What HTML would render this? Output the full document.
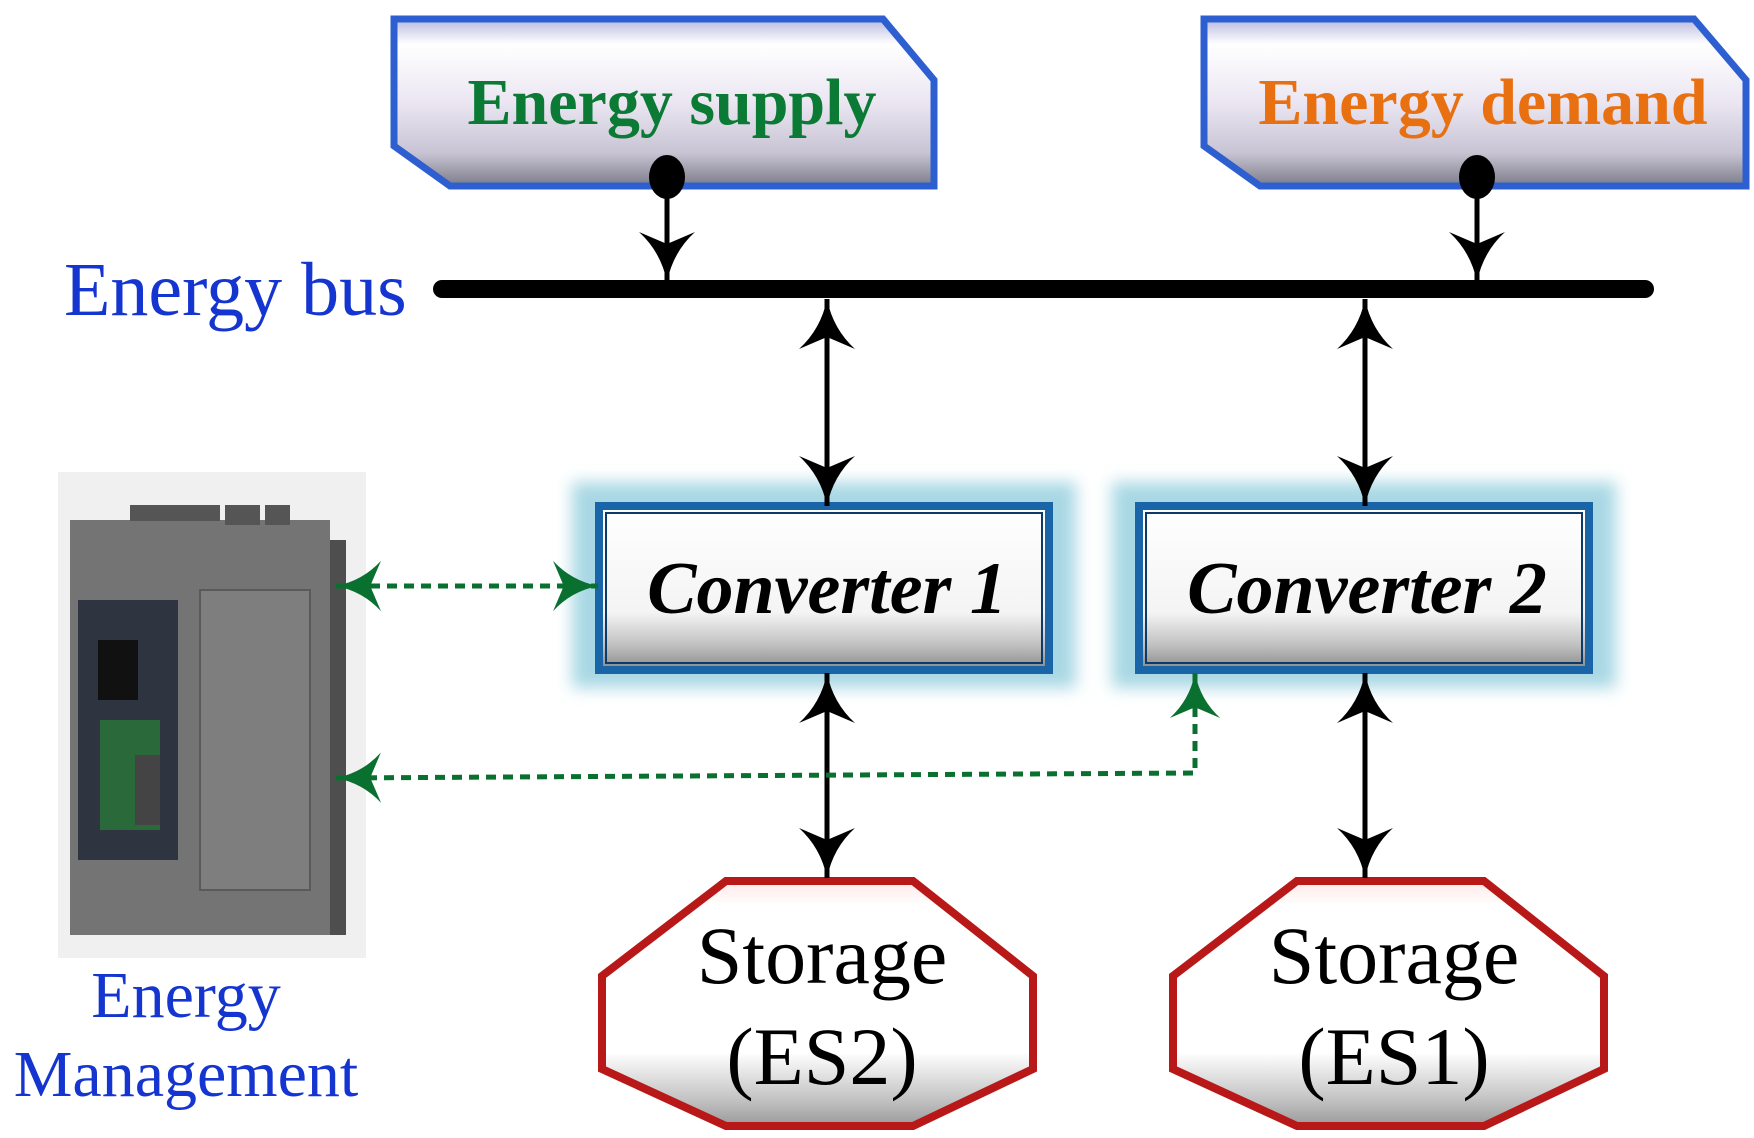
<!DOCTYPE html>
<html><head><meta charset="utf-8"><style>html,body{margin:0;padding:0;background:#fff}svg{display:block}</style></head>
<body>
<svg width="1754" height="1138" viewBox="0 0 1754 1138" xmlns="http://www.w3.org/2000/svg">
<defs>
<linearGradient id="gb" x1="0" y1="0" x2="0" y2="1">
<stop offset="0" stop-color="#b8b8e0"/><stop offset="0.15" stop-color="#ffffff"/><stop offset="0.5" stop-color="#ebe6f2"/><stop offset="0.8" stop-color="#c8c4d4"/><stop offset="1" stop-color="#7c7c88"/>
</linearGradient>
<linearGradient id="gc" x1="0" y1="0" x2="0" y2="1">
<stop offset="0" stop-color="#ffffff"/><stop offset="0.65" stop-color="#f4f4f4"/><stop offset="0.85" stop-color="#c0c0c0"/><stop offset="1" stop-color="#888"/>
</linearGradient>
<linearGradient id="gs" x1="0" y1="0" x2="0" y2="1">
<stop offset="0" stop-color="#ffe8e8"/><stop offset="0.1" stop-color="#ffffff"/><stop offset="0.7" stop-color="#ffffff"/><stop offset="0.9" stop-color="#c0c0c0"/><stop offset="1" stop-color="#999"/>
</linearGradient>
<filter id="glow" x="-20%" y="-30%" width="140%" height="160%"><feGaussianBlur stdDeviation="8"/></filter>
<marker id="ah" viewBox="0 0 50 56" refX="50" refY="28" markerWidth="50" markerHeight="56" markerUnits="userSpaceOnUse" orient="auto-start-reverse">
<path d="M0,0 Q20,22 50,28 Q20,34 0,56 L12,28 Z" fill="#000"/></marker>
<marker id="gh" viewBox="0 0 50 56" refX="50" refY="28" markerWidth="45" markerHeight="52" markerUnits="userSpaceOnUse" orient="auto-start-reverse">
<path d="M0,0 Q20,22 50,28 Q20,34 0,56 L12,28 Z" fill="#0a7030"/></marker>
</defs>

<!-- Energy supply -->
<polygon points="394,19 883,19 934,80 934,186 450,186 394,146" fill="url(#gb)" stroke="#2e5fd0" stroke-width="7"/>
<text x="672" y="124" text-anchor="middle" font-family="Liberation Serif, serif" font-weight="bold" font-size="66" fill="#0a7a35">Energy supply</text>
<!-- Energy demand -->
<polygon points="1204,19 1694,19 1746,80 1746,186 1260,186 1204,146" fill="url(#gb)" stroke="#2e5fd0" stroke-width="7"/>
<text x="1483" y="124" text-anchor="middle" font-family="Liberation Serif, serif" font-weight="bold" font-size="66" fill="#e87010">Energy demand</text>

<!-- dots & arrows down -->
<ellipse cx="667" cy="177" rx="18" ry="22" fill="#000"/>
<line x1="667" y1="177" x2="667" y2="282" stroke="#000" stroke-width="5" marker-end="url(#ah)"/>
<ellipse cx="1477" cy="177" rx="18" ry="22" fill="#000"/>
<line x1="1477" y1="177" x2="1477" y2="282" stroke="#000" stroke-width="5" marker-end="url(#ah)"/>

<!-- bus -->
<line x1="442" y1="289" x2="1645" y2="289" stroke="#000" stroke-width="18" stroke-linecap="round"/>
<text x="64" y="315" font-family="Liberation Serif, serif" font-size="76" fill="#1535d0">Energy bus</text>

<!-- converters glow -->
<rect x="572" y="482" width="504" height="206" fill="#a8d8e4" filter="url(#glow)"/>
<rect x="1112" y="482" width="504" height="206" fill="#a8d8e4" filter="url(#glow)"/>
<rect x="599" y="506" width="450" height="164" fill="url(#gc)" stroke="#1a64a8" stroke-width="8"/>
<rect x="606" y="513" width="436" height="150" fill="none" stroke="#0c3a6a" stroke-width="2"/>
<rect x="1139" y="506" width="450" height="164" fill="url(#gc)" stroke="#1a64a8" stroke-width="8"/>
<rect x="1146" y="513" width="436" height="150" fill="none" stroke="#0c3a6a" stroke-width="2"/>
<text x="827" y="613" text-anchor="middle" font-family="Liberation Serif, serif" font-style="italic" font-weight="bold" font-size="74" fill="#000">Converter 1</text>
<text x="1367" y="613" text-anchor="middle" font-family="Liberation Serif, serif" font-style="italic" font-weight="bold" font-size="74" fill="#000">Converter 2</text>

<!-- bus to converters -->
<line x1="827" y1="299" x2="827" y2="506" stroke="#000" stroke-width="5" marker-start="url(#ah)" marker-end="url(#ah)"/>
<line x1="1365" y1="299" x2="1365" y2="506" stroke="#000" stroke-width="5" marker-start="url(#ah)" marker-end="url(#ah)"/>

<!-- storages -->
<polygon points="726,881 913,881 1033,976 1033,1069 913,1126 726,1126 602,1069 602,976" fill="url(#gs)" stroke="#b81818" stroke-width="8"/>
<polygon points="1297,881 1484,881 1604,976 1604,1069 1484,1126 1297,1126 1173,1069 1173,976" fill="url(#gs)" stroke="#b81818" stroke-width="8"/>
<text x="822" y="983" text-anchor="middle" font-family="Liberation Serif, serif" font-size="82" fill="#000">Storage</text>
<text x="822" y="1084" text-anchor="middle" font-family="Liberation Serif, serif" font-size="82" fill="#000">(ES2)</text>
<text x="1394" y="983" text-anchor="middle" font-family="Liberation Serif, serif" font-size="82" fill="#000">Storage</text>
<text x="1394" y="1084" text-anchor="middle" font-family="Liberation Serif, serif" font-size="82" fill="#000">(ES1)</text>

<!-- converters to storage -->
<line x1="827" y1="673" x2="827" y2="878" stroke="#000" stroke-width="5" marker-start="url(#ah)" marker-end="url(#ah)"/>
<line x1="1365" y1="673" x2="1365" y2="878" stroke="#000" stroke-width="5" marker-start="url(#ah)" marker-end="url(#ah)"/>

<!-- device image -->
<rect x="58" y="472" width="308" height="486" fill="#f0f0f0"/>
<rect x="70" y="520" width="260" height="415" fill="#747474"/>
<rect x="200" y="590" width="110" height="300" fill="#7e7e7e" stroke="#5a5a5a" stroke-width="2"/>
<rect x="330" y="540" width="16" height="395" fill="#4e4e4e"/>
<rect x="78" y="600" width="100" height="260" fill="#2e3440"/>
<rect x="98" y="640" width="40" height="60" fill="#111"/>
<rect x="100" y="720" width="60" height="110" fill="#2a6a3a"/>
<rect x="135" y="755" width="25" height="70" fill="#444"/>
<rect x="130" y="505" width="90" height="16" fill="#555"/>
<rect x="225" y="505" width="35" height="20" fill="#555"/>
<rect x="265" y="505" width="25" height="20" fill="#555"/>
<text x="186" y="1017" text-anchor="middle" font-family="Liberation Serif, serif" font-size="66" fill="#1535d0">Energy</text>
<text x="186" y="1096" text-anchor="middle" font-family="Liberation Serif, serif" font-size="66" fill="#1535d0">Management</text>

<!-- green dashed -->
<line x1="336" y1="586" x2="598" y2="586" stroke="#0a7030" stroke-width="5" stroke-dasharray="10,7" marker-start="url(#gh)" marker-end="url(#gh)"/>
<polyline points="1195,673 1195,773 336,778" fill="none" stroke="#0a7030" stroke-width="5" stroke-dasharray="10,7" marker-start="url(#gh)" marker-end="url(#gh)"/>
</svg>
</body></html>
